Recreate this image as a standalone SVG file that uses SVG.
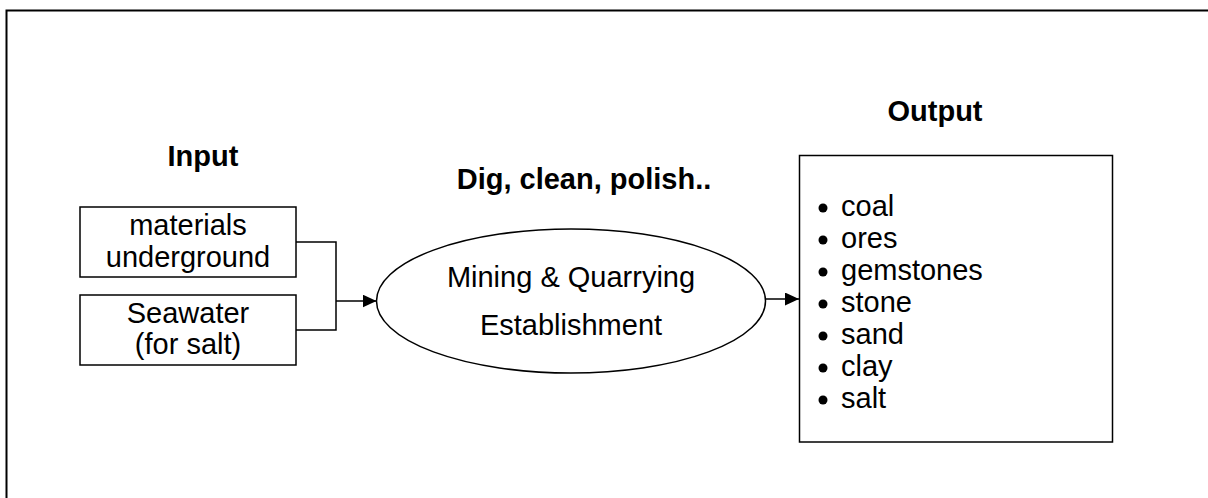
<svg xmlns="http://www.w3.org/2000/svg" width="1208" height="498" viewBox="0 0 1208 498">
<style>
  text { font-family: "Liberation Sans", Arial, sans-serif; font-size: 29px; fill: #000; }
  .b { font-weight: bold; }
  .c { text-anchor: middle; }
  .box { fill: #fff; stroke: #000; stroke-width: 1.5; }
  .ln { fill: none; stroke: #000; stroke-width: 1.5; }
</style>
<defs>
  <marker id="arr" viewBox="0 0 14 13" refX="14" refY="6.5" markerWidth="14" markerHeight="13" markerUnits="userSpaceOnUse" orient="auto">
    <path d="M0,0 L14,6.5 L0,13 Z" fill="#000"/>
  </marker>
</defs>
<rect x="6.5" y="10.5" width="1220" height="520" fill="#fff" stroke="#000" stroke-width="2"/>

<g id="input-label"><text class="b c" x="203" y="166">Input</text></g>
<g id="process-label"><text class="b c" x="584" y="189">Dig, clean, polish..</text></g>
<g id="output-label"><text class="b c" x="935" y="121">Output</text></g>

<g id="materials">
  <rect class="box" x="80" y="207" width="216" height="70"/>
  <text class="c" x="188" y="235">materials</text>
  <text class="c" x="188" y="267">underground</text>
</g>
<g id="seawater">
  <rect class="box" x="80" y="295" width="216" height="70"/>
  <text class="c" x="188" y="323">Seawater</text>
  <text class="c" x="188" y="354">(for salt)</text>
</g>
<g id="establishment">
  <ellipse class="box" cx="571" cy="301" rx="194.5" ry="72"/>
  <text class="c" x="571" y="287">Mining &amp; Quarrying</text>
  <text class="c" x="571" y="335">Establishment</text>
</g>
<g id="outputs">
  <rect class="box" x="799.5" y="155.5" width="313" height="286.5"/>
  <g fill="#000">
    <circle cx="823" cy="208" r="4.5"/>
    <circle cx="823" cy="240" r="4.5"/>
    <circle cx="823" cy="272" r="4.5"/>
    <circle cx="823" cy="304" r="4.5"/>
    <circle cx="823" cy="336" r="4.5"/>
    <circle cx="823" cy="368" r="4.5"/>
    <circle cx="823" cy="400" r="4.5"/>
  </g>
  <text x="841" y="216">coal</text>
  <text x="841" y="248">ores</text>
  <text x="841" y="280">gemstones</text>
  <text x="841" y="312">stone</text>
  <text x="841" y="344">sand</text>
  <text x="841" y="376">clay</text>
  <text x="841" y="408">salt</text>
</g>

<g id="connectors">
  <path class="ln" d="M296,242 H336 V330 H296"/>
  <path class="ln" d="M336,301 H376.5" marker-end="url(#arr)"/>
  <path class="ln" d="M765.5,299 H799" marker-end="url(#arr)"/>
</g>
</svg>
